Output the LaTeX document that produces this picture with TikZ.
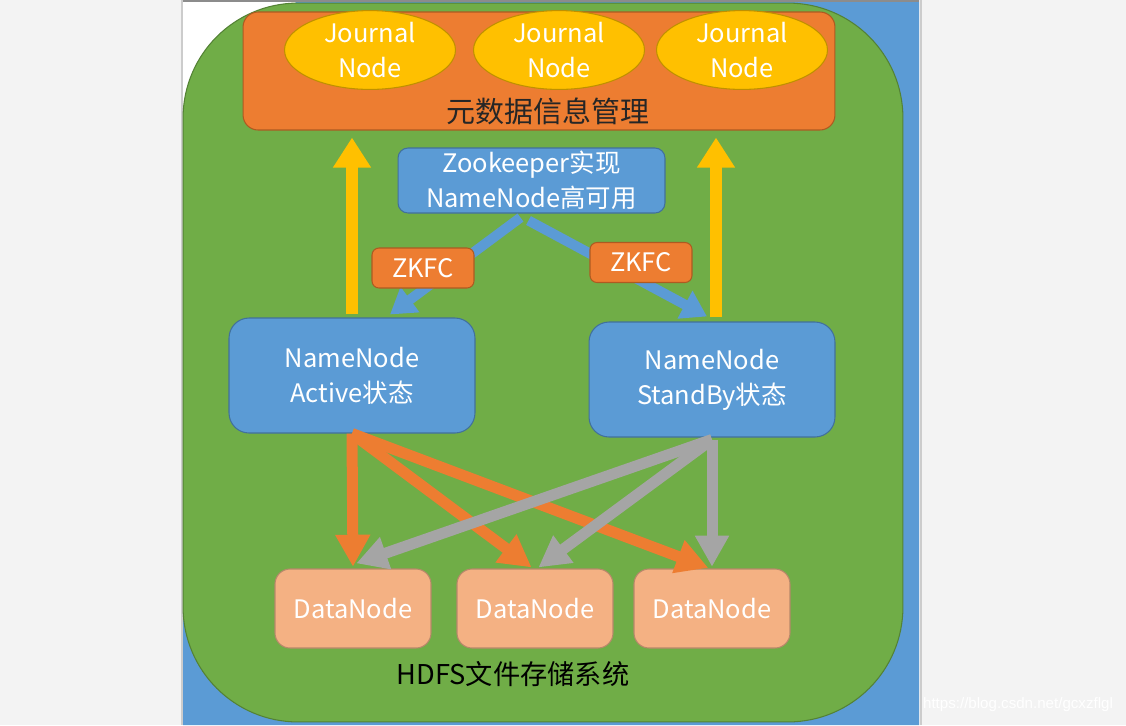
\documentclass[tikz,border=0pt]{standalone}
\usepackage{fontspec}
\setmainfont{Noto Sans CJK SC}
\newfontfamily\wmfont{Liberation Sans}
\usetikzlibrary{arrows.meta,calc,shapes.geometric}
\definecolor{pagegray}{HTML}{F3F3F3}
\definecolor{bgblue}{HTML}{5B9BD5}
\definecolor{hgreen}{HTML}{70AD47}
\definecolor{hgreenb}{HTML}{548235}
\definecolor{nblue}{HTML}{5B9BD5}
\definecolor{nblueb}{HTML}{41719C}
\definecolor{norange}{HTML}{ED7D31}
\definecolor{norangeb}{HTML}{AE5A21}
\definecolor{ngold}{HTML}{FFC000}
\definecolor{ngoldb}{HTML}{BF9000}
\definecolor{npeach}{HTML}{F4B183}
\definecolor{npeachb}{HTML}{B7886A}
\definecolor{agray}{HTML}{A5A5A5}
\definecolor{darktext}{HTML}{262626}
\begin{document}
\begin{tikzpicture}[x=0.02cm,y=-0.02cm,
  txt/.style={font=\fontsize{14.5pt}{20pt}\selectfont, align=center},
  box/.style={draw, line width=0.6pt, text=white, txt, inner sep=0pt},
  bluebox/.style={box, fill=nblue, draw=nblueb},
  orangebox/.style={box, fill=norange, draw=norangeb},
  jnode/.style={box, ellipse, fill=ngold, draw=ngoldb, minimum width=3.42cm, minimum height=1.48cm},
  dnode/.style={box, fill=npeach, draw=npeachb, minimum width=3.12cm, minimum height=1.58cm, rounded corners=0.3cm},
  nnode/.style={bluebox, minimum width=4.92cm, minimum height=2.3cm, rounded corners=0.4cm},
  zkfc/.style={orangebox, minimum width=2.04cm, minimum height=0.8cm, rounded corners=0.14cm},
  yarrow/.style={draw=ngold, line width=0.24cm, -{Triangle[width=0.72cm,length=0.6cm]}},
  barrow/.style={draw=nblue, line width=0.2cm, -{Triangle[width=0.6cm,length=0.5cm]}},
  oarrow/.style={draw=norange, line width=0.22cm, -{Triangle[width=0.66cm,length=0.64cm]}},
  garrow/.style={draw=agray, line width=0.22cm, -{Triangle[width=0.64cm,length=0.62cm]}}
]
\useasboundingbox (0,0) rectangle (1126,725);
% page background
\fill[pagegray] (0,0) rectangle (1126,725);
\fill[white] (183,0) rectangle (919,725);
\fill[bgblue] (183,118) -- (298,0) -- (919,0) -- (919,725) -- (183,725) -- cycle;
\draw[black!45, line width=0.04cm] (183,1) -- (919,1);
\draw[black!20, line width=0.04cm] (182,0) -- (182,725);
\draw[black!20, line width=0.04cm] (920.5,0) -- (920.5,725);

% big green container
\node[draw=hgreenb, fill=hgreen, line width=0.6pt, minimum width=14.4cm, minimum height=14.38cm, rounded corners=2.3cm, inner sep=0pt] (hdfs) at (543,362.5) {};
\node[txt, text=black, font=\fontsize{15.5pt}{18pt}\selectfont] (hdfslabel) at (513,674) {HDFS文件存储系统};

% metadata management
\node[orangebox, minimum width=11.84cm, minimum height=2.36cm, rounded corners=0.3cm] (meta) at (539,71) {};
\node[txt, text=darktext, font=\fontsize{16.5pt}{18pt}\selectfont] (metalabel) at (548,111) {元数据信息管理};
\node[jnode] (jn1) at (370,50) {Journal\\Node};
\node[jnode] (jn2) at (559,50) {Journal\\Node};
\node[jnode] (jn3) at (742,50) {Journal\\Node};

% zookeeper
\node[bluebox, minimum width=5.34cm, minimum height=1.3cm, rounded corners=0.2cm] (zk) at (531.5,180.5) {Zookeeper实现\\NameNode高可用};

% namenodes
\node[nnode] (active) at (352,375.5) {NameNode\\Active状态};
\node[nnode] (standby) at (712,379.5) {NameNode\\StandBy状态};

% datanodes
\node[dnode] (dn1) at (353,608.5) {DataNode};
\node[dnode] (dn2) at (535,608.5) {DataNode};
\node[dnode] (dn3) at (712,608.5) {DataNode};

% yellow arrows to metadata
\coordinate (atop) at ($(active.north)+(0,-3)$);
\coordinate (stop) at ($(standby.north)+(4,-4)$);
\draw[yarrow, shorten >=4pt] (atop) -- (atop |- meta.south);
\draw[yarrow, shorten >=4pt] (stop) -- (stop |- meta.south);

% blue arrows zookeeper -> namenodes
\draw[barrow] ($(zk.south)+(-11,4)$) -- ($(active.north)+(38,-3)$);
\draw[barrow] ($(zk.south)+(-3,7)$) -- ($(standby.north)+(-5,-5)$);

% zkfc boxes
\node[zkfc] (zkfc1) at (423,268) {ZKFC};
\node[zkfc] (zkfc2) at (641,262.5) {ZKFC};

% orange arrows active -> datanodes
\draw[oarrow, shorten >=1pt] (active.south) -- (dn1.north);
\draw[oarrow, shorten >=1pt] (active.south) -- ($(dn2.north)+(-2,0)$);
\draw[oarrow, shorten >=1pt] (active.south) -- ($(dn3.north)+(-2,0)$);

% gray arrows standby -> datanodes
\draw[garrow, shorten >=1pt] ($(standby.south)+(0,2)$) -- (dn3.north);
\draw[garrow, shorten >=1pt] ($(standby.south)+(0,2)$) -- ($(dn2.north)+(2,0)$);
\draw[garrow, shorten >=2pt] ($(standby.south)+(0,2)$) -- ($(dn1.north)+(0,-4)$);

% watermark
\node[text=white, font=\wmfont\fontsize{8.6pt}{10pt}\selectfont, inner sep=0pt] (wm) at (1018,705) {https://blog.csdn.net/gcxzflgl};
\end{tikzpicture}
\end{document}
